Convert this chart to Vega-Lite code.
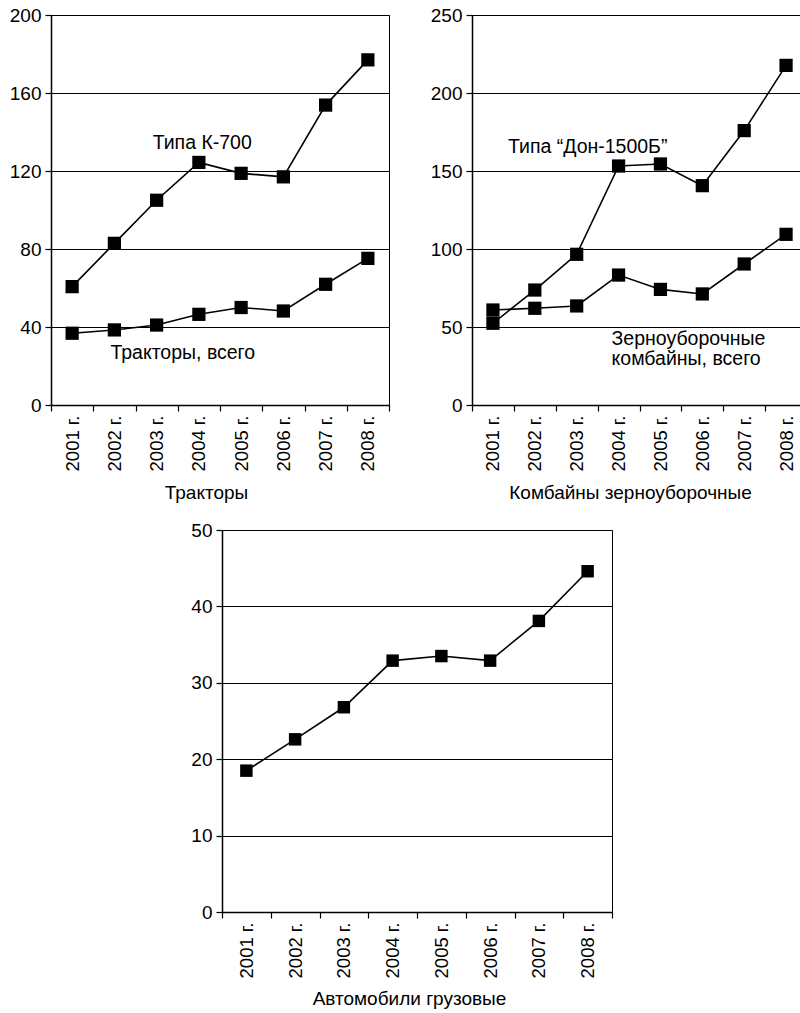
{
  "$schema": "https://vega.github.io/schema/vega-lite/v6.json",
  "padding": {"left": 8, "top": 5, "right": 0, "bottom": 0},
  "config": {
    "font": "Liberation Sans",
    "view": {"stroke": "black", "strokeWidth": 1},
    "axis": {
      "domainColor": "black", "domainWidth": 1.5,
      "tickColor": "black", "tickWidth": 1.2, "tickSize": 6,
      "labelColor": "black", "titleColor": "black",
      "labelFont": "Liberation Sans", "titleFont": "Liberation Sans",
      "titleFontWeight": "normal", "labelFontSize": 19, "titleFontSize": 19,
      "gridColor": "black", "gridOpacity": 1, "gridWidth": 1,
      "labelPadding": 4
    }
  },
  "datasets": {
    "tractors": [
      {"year": "2001 г.", "series": "Тракторы, всего", "value": 36.8},
      {"year": "2002 г.", "series": "Тракторы, всего", "value": 38.5},
      {"year": "2003 г.", "series": "Тракторы, всего", "value": 41},
      {"year": "2004 г.", "series": "Тракторы, всего", "value": 46.5},
      {"year": "2005 г.", "series": "Тракторы, всего", "value": 50},
      {"year": "2006 г.", "series": "Тракторы, всего", "value": 48.2},
      {"year": "2007 г.", "series": "Тракторы, всего", "value": 61.9},
      {"year": "2008 г.", "series": "Тракторы, всего", "value": 75.2},
      {"year": "2001 г.", "series": "Типа К-700", "value": 60.7},
      {"year": "2002 г.", "series": "Типа К-700", "value": 82.9},
      {"year": "2003 г.", "series": "Типа К-700", "value": 105},
      {"year": "2004 г.", "series": "Типа К-700", "value": 124.4},
      {"year": "2005 г.", "series": "Типа К-700", "value": 118.8},
      {"year": "2006 г.", "series": "Типа К-700", "value": 117},
      {"year": "2007 г.", "series": "Типа К-700", "value": 153.8},
      {"year": "2008 г.", "series": "Типа К-700", "value": 177}
    ],
    "combines": [
      {"year": "2001 г.", "series": "Зерноуборочные комбайны, всего", "value": 60.9},
      {"year": "2002 г.", "series": "Зерноуборочные комбайны, всего", "value": 62},
      {"year": "2003 г.", "series": "Зерноуборочные комбайны, всего", "value": 63.5},
      {"year": "2004 г.", "series": "Зерноуборочные комбайны, всего", "value": 83.3},
      {"year": "2005 г.", "series": "Зерноуборочные комбайны, всего", "value": 74.1},
      {"year": "2006 г.", "series": "Зерноуборочные комбайны, всего", "value": 71.2},
      {"year": "2007 г.", "series": "Зерноуборочные комбайны, всего", "value": 90.4},
      {"year": "2008 г.", "series": "Зерноуборочные комбайны, всего", "value": 109.4},
      {"year": "2001 г.", "series": "Типа Дон-1500Б", "value": 52.4},
      {"year": "2002 г.", "series": "Типа Дон-1500Б", "value": 73.7},
      {"year": "2003 г.", "series": "Типа Дон-1500Б", "value": 96.6},
      {"year": "2004 г.", "series": "Типа Дон-1500Б", "value": 153.2},
      {"year": "2005 г.", "series": "Типа Дон-1500Б", "value": 154.5},
      {"year": "2006 г.", "series": "Типа Дон-1500Б", "value": 140.6},
      {"year": "2007 г.", "series": "Типа Дон-1500Б", "value": 175.9},
      {"year": "2008 г.", "series": "Типа Дон-1500Б", "value": 217.7}
    ],
    "trucks": [
      {"year": "2001 г.", "value": 18.5},
      {"year": "2002 г.", "value": 22.6},
      {"year": "2003 г.", "value": 26.8},
      {"year": "2004 г.", "value": 32.9},
      {"year": "2005 г.", "value": 33.5},
      {"year": "2006 г.", "value": 32.9},
      {"year": "2007 г.", "value": 38.1},
      {"year": "2008 г.", "value": 44.6}
    ],
    "labels1": [
      {"year": "2003 г.", "value": 134.4, "label": "Типа К-700"},
      {"year": "2002 г.", "value": 26.7, "label": "Тракторы, всего"}
    ],
    "labels2": [
      {"year": "2001 г.", "value": 165.4, "label": "Типа “Дон-1500Б”"}
    ],
    "labels2b": [
      {"year": "2004 г.", "value": 38.5, "label": "Зерноуборочные\nкомбайны, всего"}
    ]
  },
  "spacing": 16,
  "vconcat": [
    {
      "bounds": "flush",
      "spacing": 83,
      "hconcat": [
        {
          "width": 338, "height": 390,
          "encoding": {
            "x": {"field": "year", "type": "ordinal",
                  "scale": {"type": "band", "paddingInner": 0, "paddingOuter": 0,
                            "domain": ["2001 г.", "2002 г.", "2003 г.", "2004 г.", "2005 г.", "2006 г.", "2007 г.", "2008 г."]},
                  "axis": {"title": "Тракторы", "labelAngle": -90, "tickBand": "extent", "labelFontSize": 18.5, "titlePadding": 13, "titleX": 155}},
            "y": {"field": "value", "type": "quantitative",
                  "scale": {"domain": [0, 200], "nice": false},
                  "axis": {"title": null, "values": [0, 40, 80, 120, 160, 200], "grid": true}}
          },
          "layer": [
            {"data": {"name": "tractors"}, "mark": {"type": "line", "color": "black", "strokeWidth": 1.6},
             "encoding": {"detail": {"field": "series"}}},
            {"data": {"name": "tractors"}, "mark": {"type": "point", "shape": "square", "filled": true, "color": "black", "opacity": 1, "size": 175},
             "encoding": {"detail": {"field": "series"}}},
            {"data": {"name": "labels1"}, "mark": {"type": "text", "align": "left", "baseline": "middle", "fontSize": 19.5, "color": "black", "dx": -4},
             "encoding": {"text": {"field": "label"}}}
          ]
        },
        {
          "width": 335, "height": 390,
          "encoding": {
            "x": {"field": "year", "type": "ordinal",
                  "scale": {"type": "band", "paddingInner": 0, "paddingOuter": 0,
                            "domain": ["2001 г.", "2002 г.", "2003 г.", "2004 г.", "2005 г.", "2006 г.", "2007 г.", "2008 г."]},
                  "axis": {"title": "Комбайны зерноуборочные", "labelAngle": -90, "tickBand": "extent", "labelFontSize": 18.5, "titlePadding": 13, "titleX": 158}},
            "y": {"field": "value", "type": "quantitative",
                  "scale": {"domain": [0, 250], "nice": false},
                  "axis": {"title": null, "values": [0, 50, 100, 150, 200, 250], "grid": true}}
          },
          "layer": [
            {"data": {"name": "combines"}, "mark": {"type": "line", "color": "black", "strokeWidth": 1.6},
             "encoding": {"detail": {"field": "series"}}},
            {"data": {"name": "combines"}, "mark": {"type": "point", "shape": "square", "filled": true, "color": "black", "opacity": 1, "size": 175},
             "encoding": {"detail": {"field": "series"}}},
            {"data": {"name": "labels2"}, "mark": {"type": "text", "align": "left", "baseline": "middle", "fontSize": 19.5, "color": "black", "dx": 15},
             "encoding": {"text": {"field": "label"}}},
            {"data": {"name": "labels2b"}, "mark": {"type": "text", "align": "left", "baseline": "alphabetic", "fontSize": 19.5, "lineBreak": "\n", "lineHeight": 20, "color": "black", "dx": -7},
             "encoding": {"text": {"field": "label"}}}
          ]
        }
      ]
    },
    {
      "bounds": "flush",
      "spacing": 0,
      "hconcat": [
        {
          "width": 171, "height": 1,
          "data": {"values": []},
          "mark": {"type": "point", "opacity": 0},
          "view": {"stroke": null},
          "encoding": {}
        },
        {
          "width": 390, "height": 382,
          "data": {"name": "trucks"},
          "encoding": {
            "x": {"field": "year", "type": "ordinal",
                  "scale": {"type": "band", "paddingInner": 0, "paddingOuter": 0,
                            "domain": ["2001 г.", "2002 г.", "2003 г.", "2004 г.", "2005 г.", "2006 г.", "2007 г.", "2008 г."]},
                  "axis": {"title": "Автомобили грузовые", "labelAngle": -90, "tickBand": "extent", "labelFontSize": 18.5, "titlePadding": 12, "titleX": 187}},
            "y": {"field": "value", "type": "quantitative",
                  "scale": {"domain": [0, 50], "nice": false},
                  "axis": {"title": null, "values": [0, 10, 20, 30, 40, 50], "grid": true}}
          },
          "layer": [
            {"mark": {"type": "line", "color": "black", "strokeWidth": 1.6}},
            {"mark": {"type": "point", "shape": "square", "filled": true, "color": "black", "opacity": 1, "size": 155}}
          ]
        }
      ]
    }
  ]
}
